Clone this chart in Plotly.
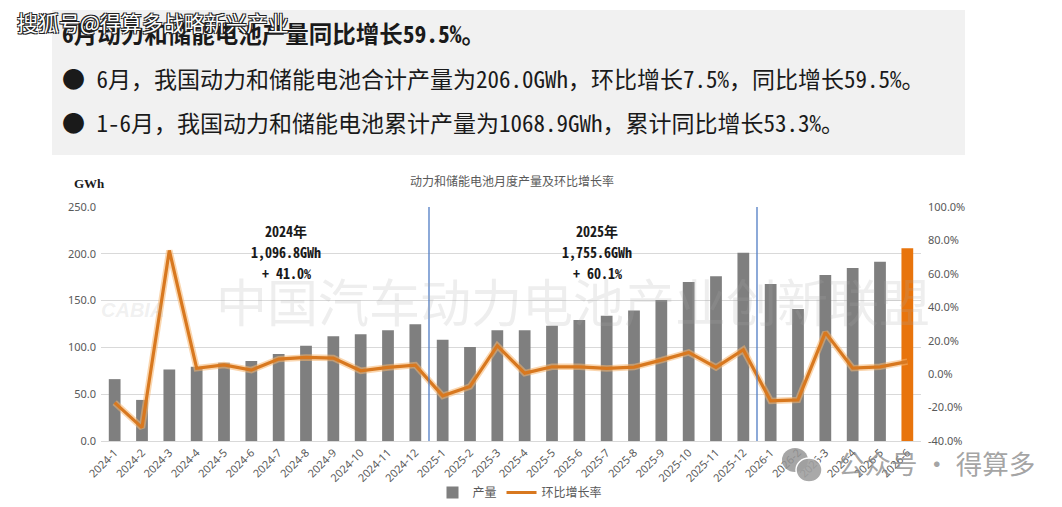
import plotly.graph_objects as go

W, H = 1062, 507

months = ["2024-1", "2024-2", "2024-3", "2024-4", "2024-5", "2024-6", "2024-7", "2024-8",
          "2024-9", "2024-10", "2024-11", "2024-12",
          "2025-1", "2025-2", "2025-3", "2025-4", "2025-5", "2025-6", "2025-7", "2025-8",
          "2025-9", "2025-10", "2025-11", "2025-12",
          "2026-1", "2026-2", "2026-3", "2026-4", "2026-5", "2026-6"]
production = [66.1, 43.9, 76.5, 79.3, 83.6, 85.4, 92.9, 101.8, 111.9, 114.0, 118.3, 124.7,
              108.2, 100.4, 118.3, 118.3, 123.2, 129.3, 133.9, 139.3, 150.6, 169.8, 175.9, 201.0,
              167.7, 141.0, 177.4, 184.8, 191.6, 206.0]
mom_growth = [-17.0, -32.0, 74.0, 3.5, 5.5, 2.4, 9.0, 10.0, 9.6, 2.0, 4.0, 5.4,
              -13.0, -7.4, 17.0, 0.6, 4.4, 4.4, 3.4, 4.2, 8.4, 13.0, 4.0, 14.6,
              -16.0, -15.4, 25.0, 3.6, 4.4, 7.5]
left_ticks = [0, 50, 100, 150, 200, 250]
right_ticks = [-40, -20, 0, 20, 40, 60, 80, 100]
right_labels = ["-40.0%", "-20.0%", "0.0%", "20.0%", "40.0%", "60.0%", "80.0%", "100.0%"]

GRAY = "#7f7f7f"
ORANGE_BAR = "#e8740c"
ORANGE_LINE = "#d8781f"
CJK = "Noto Sans Mono CJK SC, Noto Sans CJK SC"
CJK_P = "Noto Sans CJK SC"


def px(x):
    return x / W


def py(y):
    return 1 - y / H


bar_colors = [GRAY] * (len(months) - 1) + [ORANGE_BAR]

fig = go.Figure()
fig.add_trace(go.Bar(x=months, y=production, name="产量", marker=dict(color=bar_colors, line=dict(width=0)),
                     yaxis="y", showlegend=False))
# legend proxy for bars (gray)
fig.add_trace(go.Bar(x=[months[0]], y=[None], name="产量", marker=dict(color=GRAY), yaxis="y"))
fig.add_trace(go.Scatter(x=months, y=mom_growth, mode="lines", yaxis="y2", showlegend=False,
                         line=dict(color="rgba(245,180,110,0.55)", width=6.5), hoverinfo="skip"))
fig.add_trace(go.Scatter(x=months, y=mom_growth, mode="lines", name="环比增长率", yaxis="y2",
                         line=dict(color=ORANGE_LINE, width=3.2)))

xd = [px(101), px(921)]
yd = [py(441), py(207)]

fig.update_layout(
    width=W, height=H,
    margin=dict(l=0, r=0, t=0, b=0),
    paper_bgcolor="white", plot_bgcolor="rgba(0,0,0,0)",
    template="none",
    barmode="overlay",
    bargap=0.57,
    xaxis=dict(domain=xd, type="category", tickangle=-45, automargin=False,
               tickfont=dict(family="Noto Sans", size=11, color="#595959"),
               showgrid=False, showline=True, linecolor="#d9d9d9", linewidth=1,
               ticks="", zeroline=False),
    yaxis=dict(domain=yd, range=[0, 250], tickvals=left_ticks, tickformat=".1f", automargin=False,
               tickfont=dict(family="Noto Sans", size=11, color="#595959"),
               showgrid=True, gridcolor="#d9d9d9", gridwidth=1, zeroline=False,
               showline=False, ticks="", ticklabelstandoff=4),
    yaxis2=dict(domain=yd, range=[-40, 100], tickmode="array", tickvals=right_ticks, ticktext=right_labels,
                overlaying="y", side="right", automargin=False, anchor="x",
                tickfont=dict(family="Noto Sans", size=11, color="#595959"),
                showgrid=False, zeroline=False, showline=False, ticks="", ticklabelstandoff=6),
    legend=dict(orientation="h", x=px(520), xanchor="center", y=0, yanchor="bottom",
                font=dict(family=CJK_P, size=12, color="#595959"), bgcolor="rgba(0,0,0,0)",
                traceorder="normal", itemwidth=30),
    showlegend=True,
)

shapes = []
# top grey panel
shapes.append(dict(type="rect", xref="paper", yref="paper", x0=px(52), x1=px(965), y0=py(155), y1=py(10),
                   fillcolor="#f1f1f1", line=dict(width=0), layer="below"))
# year separators
for xv in [11.5, 23.5]:
    shapes.append(dict(type="line", xref="x", yref="paper", x0=xv, x1=xv, y0=yd[0], y1=yd[1],
                       line=dict(color="#4f7cc4", width=1.3)))
# WeChat-like icon
shapes.append(dict(type="circle", xref="paper", yref="paper", x0=px(782), x1=px(808), y0=py(472), y1=py(448),
                   fillcolor="rgba(150,150,150,0.85)", line=dict(width=0)))
shapes.append(dict(type="circle", xref="paper", yref="paper", x0=px(796), x1=px(822), y0=py(482), y1=py(458),
                   fillcolor="rgba(160,160,160,0.9)", line=dict(color="white", width=1.5)))
fig.update_layout(shapes=shapes)

ann = []
ann.append(dict(text="6月动力和储能电池产量同比增长59.5%。", x=px(60), y=py(33), xref="paper", yref="paper",
                xanchor="left", yanchor="middle", showarrow=False,
                font=dict(family=CJK, size=23.5, color="#1a1a1a", weight="bold")))
ann.append(dict(text="● 6月，我国动力和储能电池合计产量为206.0GWh，环比增长7.5%，同比增长59.5%。",
                x=px(60), y=py(78), xref="paper", yref="paper", xanchor="left", yanchor="middle",
                showarrow=False, font=dict(family=CJK, size=23, color="#1a1a1a")))
ann.append(dict(text="● 1-6月，我国动力和储能电池累计产量为1068.9GWh，累计同比增长53.3%。",
                x=px(60), y=py(122), xref="paper", yref="paper", xanchor="left", yanchor="middle",
                showarrow=False, font=dict(family=CJK, size=23, color="#1a1a1a")))
ann.append(dict(text="搜狐号@得算多战略新兴产业", x=px(15), y=py(22), xref="paper", yref="paper",
                xanchor="left", yanchor="middle", showarrow=False,
                font=dict(family=CJK_P, size=21, color="white",
                          shadow="1px 1px 0 #222, -1px -1px 0 #222, 1px -1px 0 #222, -1px 1px 0 #222")))
ann.append(dict(text="动力和储能电池月度产量及环比增长率", x=px(512), y=py(180), xref="paper", yref="paper",
                xanchor="center", yanchor="middle", showarrow=False,
                font=dict(family=CJK_P, size=12, color="#595959")))
ann.append(dict(text="<b>GWh</b>", x=px(72), y=py(183), xref="paper", yref="paper",
                xanchor="left", yanchor="middle", showarrow=False,
                font=dict(family="Liberation Serif", size=13, color="#1a1a1a")))
for cx, lines in [(286, ["2024年", "1,096.8GWh", "+ 41.0%"]), (597, ["2025年", "1,755.6GWh", "+ 60.1%"])]:
    for ly, t in zip([231, 252, 273], lines):
        ann.append(dict(text=t, x=px(cx), y=py(ly), xref="paper", yref="paper",
                        xanchor="center", yanchor="middle", showarrow=False, borderpad=0,
                        font=dict(family=CJK, size=14, color="#1a1a1a", weight="bold")))
ann.append(dict(text="中国汽车动力电池产业创新联盟", x=px(573), y=py(300), xref="paper", yref="paper",
                xanchor="center", yanchor="middle", showarrow=False,
                font=dict(family=CJK_P, size=51, color="rgba(170,170,170,0.2)")))
ann.append(dict(text="<i>CABIA</i>", x=px(132), y=py(310), xref="paper", yref="paper",
                xanchor="center", yanchor="middle", showarrow=False,
                font=dict(family="Liberation Sans", size=20, color="rgba(170,170,170,0.18)", weight="bold")))
ann.append(dict(text="公众号 · 得算多", x=px(836), y=py(462), xref="paper", yref="paper",
                xanchor="left", yanchor="middle", showarrow=False,
                font=dict(family=CJK_P, size=26.5, color="rgba(140,140,140,0.8)")))
fig.update_layout(annotations=ann)

fig.write_html("out.html")
